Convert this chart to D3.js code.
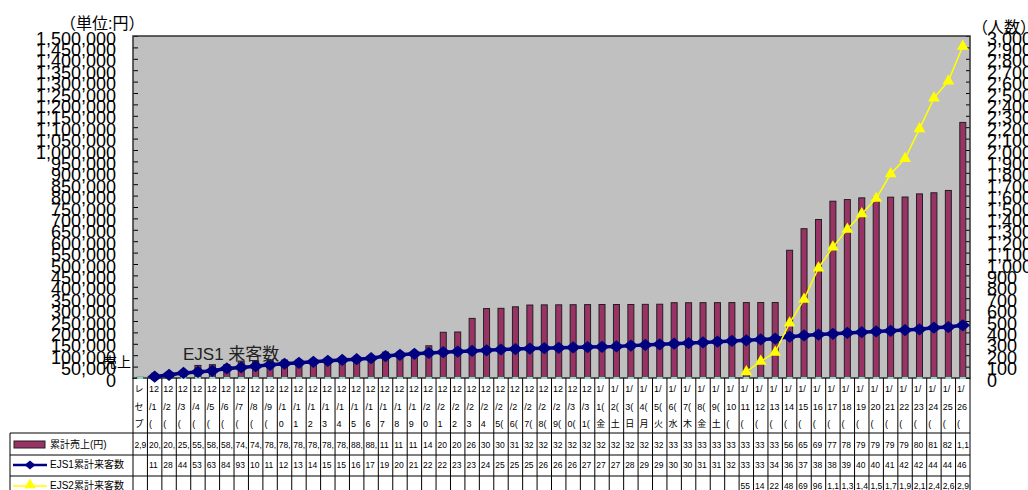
<!DOCTYPE html>
<html>
<head>
<meta charset="utf-8">
<script src="https://d3js.org/d3.v7.min.js"></script>
<style>
  body { margin: 0; background: #fff; }
  svg { display: block; font-family: "Liberation Sans", "Noto Sans CJK JP", sans-serif; }
</style>
</head>
<body>
<div id="chart"></div>
<script>
// columns of the data table
var categories = ["レセプション",
  "12/1(火)", "12/2(水)", "12/3(木)", "12/4(金)", "12/5(土)", "12/6(日)", "12/7(月)", "12/8(火)", "12/9(水)",
  "12/10", "12/11", "12/12", "12/13", "12/14", "12/15", "12/16", "12/17", "12/18", "12/19", "12/20",
  "12/21", "12/22", "12/23", "12/24",
  "12/25(金)", "12/26(土)", "12/27(日)", "12/28(月)", "12/29(火)", "12/30(水)", "12/31(木)",
  "1/1(金)", "1/2(土)", "1/3(日)", "1/4(月)", "1/5(火)", "1/6(水)", "1/7(木)", "1/8(金)", "1/9(土)",
  "1/10(日)", "1/11(月)", "1/12(火)", "1/13(水)", "1/14(木)", "1/15(金)", "1/16(土)", "1/17(日)",
  "1/18(月)", "1/19(火)", "1/20(水)", "1/21(木)", "1/22(金)", "1/23(土)", "1/24(日)", "1/25(月)", "1/26(火)"];

// 累計売上(円)
var sales = [2940,
  20400, 20700, 25300, 55200, 58300, 58600, 74200, 74800, 78100,
  78400, 78600, 78800, 78900, 78900, 88200, 88700, 113500, 114200, 115800, 141300,
  200500, 201800, 261400, 304500,
  305600, 312300, 320100, 320800, 321000, 321500, 321900,
  322400, 322400, 322400, 323000, 323600, 330200, 330200, 330500, 330500,
  330800, 330800, 331000, 331000, 560300, 654800, 695200, 775400,
  782600, 790100, 790300, 793100, 793800, 807500, 812400, 822600, 1121000];

// EJS1累計来客数
var ejs1 = [null,
  11, 28, 44, 53, 63, 84, 93, 104, 116,
  125, 133, 142, 151, 158, 165, 174, 192, 203, 212, 220,
  226, 232, 237, 243,
  250, 254, 258, 262, 265, 268, 271,
  274, 277, 284, 290, 296, 301, 306, 312, 318,
  325, 331, 338, 345, 362, 373, 381, 388,
  395, 402, 408, 414, 421, 427, 441, 447, 462];

// EJS2累計来客数
var ejs2 = [null,
  null, null, null, null, null, null, null, null, null,
  null, null, null, null, null, null, null, null, null, null, null,
  null, null, null, null,
  null, null, null, null, null, null, null,
  null, null, null, null, null, null, null, null, null,
  null, 55, 146, 225, 482, 690, 965, 1148,
  1305, 1440, 1575, 1790, 1925, 2185, 2455, 2605, 2910];

var salesTicks = [0, 50000, 100000, 150000, 200000, 250000, 300000, 350000, 400000, 450000,
  500000, 550000, 600000, 650000, 700000, 750000, 800000, 850000, 900000, 950000,
  1000000, 1050000, 1100000, 1150000, 1200000, 1250000, 1300000, 1350000, 1400000, 1450000, 1500000];
var visitorTicks = [0, 100, 200, 300, 400, 500, 600, 700, 800, 900,
  1000, 1100, 1200, 1300, 1400, 1500, 1600, 1700, 1800, 1900,
  2000, 2100, 2200, 2300, 2400, 2500, 2600, 2700, 2800, 2900, 3000];

var seriesNames = ["累計売上(円)", "EJS1累計来客数", "EJS2累計来客数"];

var rows = categories.map(function(c, i) {
  return {cat: c, sales: sales[i], ejs1: ejs1[i], ejs2: ejs2[i]};
});

var width = 1028, height = 490;
var plot = {left: 133, right: 970, top: 36, bottom: 378};
var rowLines = [433, 455, 476, 497];

var svg = d3.select("#chart")
  .append("svg")
    .attr("width", width)
    .attr("height", height);

var x = d3.scaleBand()
  .domain(categories)
  .range([plot.left, plot.right])
  .padding(0);

var yL = d3.scaleLinear()
  .domain([0, 1500000])
  .range([plot.bottom, plot.top]);

var yR = d3.scaleLinear()
  .domain([0, 3000])
  .range([plot.bottom, plot.top]);

var cx = function(d) { return x(d.cat) + x.bandwidth() / 2; };
var fmt = d3.format(",");

// plot background
svg.append("rect")
  .attr("x", plot.left)
  .attr("y", plot.top)
  .attr("width", plot.right - plot.left)
  .attr("height", plot.bottom - plot.top)
  .attr("fill", "#c0c0c0");

// left axis (sales)
svg.append("g")
  .attr("transform", `translate(${plot.left},0)`)
  .call(d3.axisLeft(yL).tickValues(salesTicks).tickFormat(fmt).tickSize(-5).tickPadding(17))
  .attr("font-family", null)
  .attr("font-size", null)
  .call(g => g.select(".domain").remove())
  .call(g => g.selectAll("line").attr("stroke", "#000"))
  .selectAll("text")
    .attr("font-size", 18)
    .attr("fill", "#000")
    .attr("dy", "0.45em");

// right axis (visitors)
svg.append("g")
  .attr("transform", `translate(${plot.right},0)`)
  .call(d3.axisRight(yR).tickValues(visitorTicks).tickFormat(fmt).tickSize(-4).tickPadding(17))
  .attr("font-family", null)
  .attr("font-size", null)
  .call(g => g.select(".domain").remove())
  .call(g => g.selectAll("line").attr("stroke", "#000"))
  .selectAll("text")
    .attr("font-size", 18)
    .attr("fill", "#000")
    .attr("dy", "0.45em");

// bars
svg.selectAll(".bar")
  .data(rows)
  .join("rect")
    .attr("class", "bar")
    .attr("x", d => cx(d) - 3)
    .attr("y", d => yL(d.sales))
    .attr("width", 6)
    .attr("height", d => plot.bottom - yL(d.sales))
    .attr("fill", "#993366")
    .attr("stroke", "#202020")
    .attr("stroke-width", 1);

// plot frame
svg.append("rect")
  .attr("x", plot.left)
  .attr("y", plot.top)
  .attr("width", plot.right - plot.left)
  .attr("height", plot.bottom - plot.top)
  .attr("fill", "none")
  .attr("stroke", "#303030")
  .attr("stroke-width", 1.5);

// small marks on the base line
svg.selectAll(".base")
  .data(rows)
  .join("rect")
    .attr("class", "base")
    .attr("x", d => cx(d) - 3)
    .attr("y", plot.bottom - 1)
    .attr("width", 6)
    .attr("height", 2)
    .attr("fill", "#86dcc0");

var diamond = {
  draw: function(ctx, size) {
    var w = Math.sqrt(size) * 0.6, h = Math.sqrt(size) * 0.5;
    ctx.moveTo(-w, 0); ctx.lineTo(0, -h); ctx.lineTo(w, 0); ctx.lineTo(0, h); ctx.closePath();
  }
};

// EJS1 line
var line1 = d3.line()
  .defined(d => d.ejs1 != null)
  .x(cx)
  .y(d => yR(d.ejs1));

svg.append("path")
  .datum(rows)
  .attr("d", line1)
  .attr("fill", "none")
  .attr("stroke", "#000080")
  .attr("stroke-width", 3.5);

svg.selectAll(".m1")
  .data(rows.filter(d => d.ejs1 != null))
  .join("path")
    .attr("class", "m1")
    .attr("transform", d => `translate(${cx(d)},${yR(d.ejs1)})`)
    .attr("d", d3.symbol().type(diamond).size(150))
    .attr("fill", "#000080");

// EJS2 line
var line2 = d3.line()
  .defined(d => d.ejs2 != null)
  .x(cx)
  .y(d => yR(d.ejs2));

svg.append("path")
  .datum(rows)
  .attr("d", line2)
  .attr("fill", "none")
  .attr("stroke", "#ffff00")
  .attr("stroke-width", 1.5);

svg.selectAll(".m2")
  .data(rows.filter(d => d.ejs2 != null))
  .join("path")
    .attr("class", "m2")
    .attr("transform", d => `translate(${cx(d)},${yR(d.ejs2)})`)
    .attr("d", d3.symbol().type(d3.symbolTriangle).size(60))
    .attr("fill", "#ffff00");

// titles / labels
svg.append("text").attr("x", 60).attr("y", 29).attr("font-size", 16).text("（単位:円）");
svg.append("text").attr("x", 972).attr("y", 33).attr("font-size", 16).text("（人数）");
svg.append("text").attr("x", 103).attr("y", 367).attr("font-size", 14).text("売上");
svg.append("text").attr("x", 183).attr("y", 360).attr("font-size", 17).attr("fill", "#222").text("EJS1 来客数");

// ---- data table ----
var tbl = svg.append("g").attr("stroke", "#000").attr("stroke-width", 1);

// vertical lines
tbl.selectAll(".vl")
  .data(categories.concat(["end"]))
  .join("line")
    .attr("x1", d => d === "end" ? plot.right : x(d))
    .attr("x2", d => d === "end" ? plot.right : x(d))
    .attr("y1", plot.bottom)
    .attr("y2", height + 10);

tbl.append("line").attr("x1", 10).attr("x2", 10).attr("y1", rowLines[0]).attr("y2", height + 10);

tbl.selectAll(".hl")
  .data(rowLines)
  .join("line")
    .attr("x1", 10)
    .attr("x2", plot.right)
    .attr("y1", d => d)
    .attr("y2", d => d);

// text measuring helpers
var meas = svg.append("text").attr("visibility", "hidden");
function textW(s, size) {
  meas.attr("font-size", size).text(s);
  return meas.node().getComputedTextLength();
}
function wrap(label, size, maxW) {
  var lines = [], cur = "";
  for (var ch of label) {
    if (cur && textW(cur + ch, size) > maxW) { lines.push(cur); cur = ch; }
    else cur += ch;
  }
  if (cur) lines.push(cur);
  return lines;
}
function fit(s, size, maxW) {
  var out = "";
  for (var ch of s) {
    if (textW(out + ch, size) > maxW) break;
    out += ch;
  }
  return out;
}

// header cells
var headSize = 9;
var headLineY = [392, 410, 427];
rows.forEach(function(d) {
  var lines = wrap(d.cat, headSize, headSize * 1.14).slice(0, 3);
  lines.forEach(function(l, j) {
    svg.append("text")
      .attr("x", x(d.cat) + 1.5)
      .attr("y", headLineY[j])
      .attr("font-size", headSize)
      .text(l);
  });
});

// value cells
var cellSize = 8.5;
var cellY = [448, 468, 489];
["sales", "ejs1", "ejs2"].forEach(function(key, r) {
  rows.forEach(function(d) {
    if (d[key] == null) return;
    svg.append("text")
      .attr("x", x(d.cat) + 1.5)
      .attr("y", cellY[r])
      .attr("font-size", cellSize)
      .text(fit(fmt(d[key]), cellSize, x.bandwidth() - 1.5));
  });
});

// legend keys in the table
svg.append("rect")
  .attr("x", 14).attr("y", 441).attr("width", 31).attr("height", 7)
  .attr("fill", "#993366").attr("stroke", "#202020");

svg.append("line")
  .attr("x1", 13).attr("x2", 47).attr("y1", 465).attr("y2", 465)
  .attr("stroke", "#000080").attr("stroke-width", 2.5);
svg.append("path")
  .attr("transform", "translate(30,465)")
  .attr("d", d3.symbol().type(diamond).size(80))
  .attr("fill", "#000080");

svg.append("line")
  .attr("x1", 13).attr("x2", 47).attr("y1", 486).attr("y2", 486)
  .attr("stroke", "#ffff00").attr("stroke-width", 1.5);
svg.append("path")
  .attr("transform", "translate(30,485)")
  .attr("d", d3.symbol().type(d3.symbolTriangle).size(55))
  .attr("fill", "#ffff00");

svg.selectAll(".leg")
  .data(seriesNames)
  .join("text")
    .attr("x", 50)
    .attr("y", (d, i) => cellY[i])
    .attr("font-size", 10)
    .text(d => d);
</script>
</body>
</html>
